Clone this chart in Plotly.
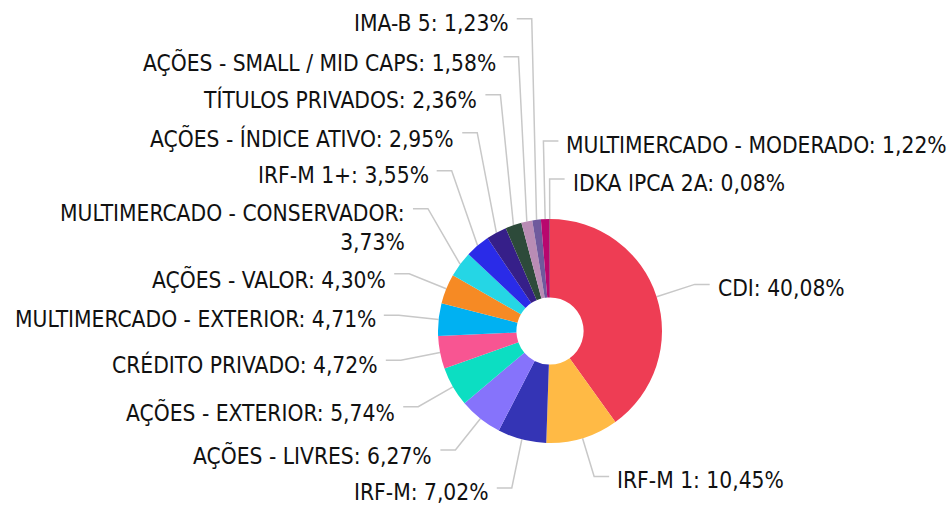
import math
import plotly.graph_objects as go

# ---- data ----
labels = [
    "CDI", "IRF-M 1", "IRF-M", "AÇÕES - LIVRES", "AÇÕES - EXTERIOR",
    "CRÉDITO PRIVADO", "MULTIMERCADO - EXTERIOR", "AÇÕES - VALOR",
    "MULTIMERCADO - CONSERVADOR", "IRF-M 1+", "AÇÕES - ÍNDICE ATIVO",
    "TÍTULOS PRIVADOS", "AÇÕES - SMALL / MID CAPS", "IMA-B 5",
    "MULTIMERCADO - MODERADO", "IDKA IPCA 2A",
]
values = [40.08, 10.45, 7.02, 6.27, 5.74, 4.72, 4.71, 4.30,
          3.73, 3.55, 2.95, 2.36, 1.58, 1.23, 1.22, 0.08]
colors = [
    "#EE3D54", "#FFBA45", "#3434B5", "#8673FB", "#0CDEC2",
    "#F85592", "#00B1F2", "#F68A24", "#25D6E5", "#2A2BE8",
    "#361F89", "#2D4A3A", "#B98CB5", "#6F5A9D", "#B8076E", "#7A1F3D",
]

# ---- layout constants ----
W, H = 949, 505
CX, CY, R = 550, 331, 112
HOLE = 0.3
R1 = 152          # radius of the label-line elbow
LEN2 = 15         # horizontal part of the leader line
GAP = 7           # gap between line end and text
FONT = "DejaVu Sans Condensed, DejaVu Sans, sans-serif"
FSIZE = 22.6
PITCH = 38        # min vertical distance between single-line labels
LINE_H = 27       # extra height per wrapped line
MAX_W = 380       # max label width (px, estimated)
CHAR_W = 12       # estimated average char width
TOP_RIGHT_DEG = 5 # slices this close to the top get right-side labels


def fmt(v):
    return f"{v:.2f}".replace(".", ",") + "%"


def wrap(text):
    words = text.split(" ")
    lines, cur = [], ""
    for w in words:
        t = (cur + " " + w).strip()
        if cur and len(t) * CHAR_W > MAX_W:
            lines.append(cur)
            cur = w
        else:
            cur = t
    lines.append(cur)
    return lines


total = sum(values)
items = []
cum = 0.0
for lab, v in zip(labels, values):
    mid = 360.0 * (cum + v / 2) / total
    cum += v
    th = math.radians(mid)
    right = mid < 180 or mid > 360 - TOP_RIGHT_DEG
    lines = wrap(f"{lab}: {fmt(v)}")
    items.append(dict(
        mid=mid, s=math.sin(th), c=math.cos(th), right=right,
        lines=lines, n=len(lines),
        ideal=CY - R1 * math.cos(th),
    ))

# ---- vertical overlap resolution per side ----
for side in (True, False):
    grp = [it for it in items if it["right"] == side]
    if side:
        grp.sort(key=lambda it: it["mid"] - 360 if it["mid"] > 180 else it["mid"])
    else:
        grp.sort(key=lambda it: -it["mid"])
    upper = [it for it in grp if it["ideal"] < CY]
    lower = [it for it in grp if it["ideal"] >= CY]
    prev = None
    for it in lower:
        y = it["ideal"]
        if prev is not None:
            y = max(y, prev["y"] + PITCH + LINE_H * (prev["n"] - 1))
        it["y"] = y
        prev = it
    nxt = lower[0] if lower else None
    for it in reversed(upper):
        y = it["ideal"]
        if nxt is not None:
            y = min(y, nxt["y"] - PITCH - LINE_H * (it["n"] - 1))
        it["y"] = y
        nxt = it

# ---- build figure ----
fig = go.Figure()
fig.add_trace(go.Pie(
    labels=labels, values=values, sort=False, direction="clockwise",
    rotation=0, hole=HOLE, textinfo="none", hoverinfo="label+percent",
    marker=dict(colors=colors, line=dict(width=0)),
    domain=dict(x=[(CX - R) / W, (CX + R) / W],
                y=[(H - CY - R) / H, (H - CY + R) / H]),
    showlegend=False,
))

lx, ly = [], []
annotations = []
for it in items:
    x0 = CX + R * it["s"]
    y0 = CY - R * it["c"]
    x1 = CX + R1 * it["s"]
    y1 = it["y"]
    sign = 1 if it["right"] else -1
    x2 = x1 + sign * LEN2
    lx += [x0, x1, x2, None]
    ly += [y0, y1, y1, None]
    annotations.append(dict(
        x=x2 + sign * GAP, y=y1 - 10,
        xref="x", yref="y",
        text="<br>".join(it["lines"]),
        xanchor="left" if it["right"] else "right",
        yanchor="top",
        align="left" if it["right"] else "right",
        showarrow=False, borderpad=0,
        font=dict(family=FONT, size=FSIZE, color="#111111"),
    ))

fig.add_trace(go.Scatter(
    x=lx, y=ly, mode="lines", hoverinfo="skip", showlegend=False,
    line=dict(color="#c8c8c8", width=1.5),
))

fig.update_layout(
    width=W, height=H,
    margin=dict(l=0, r=0, t=0, b=0),
    paper_bgcolor="white", plot_bgcolor="rgba(0,0,0,0)",
    xaxis=dict(range=[0, W], visible=False, fixedrange=True),
    yaxis=dict(range=[H, 0], visible=False, fixedrange=True),
    annotations=annotations,
)

fig.write_html("out.html", config={"displayModeBar": False},
               post_script="document.body.style.margin='0';")
